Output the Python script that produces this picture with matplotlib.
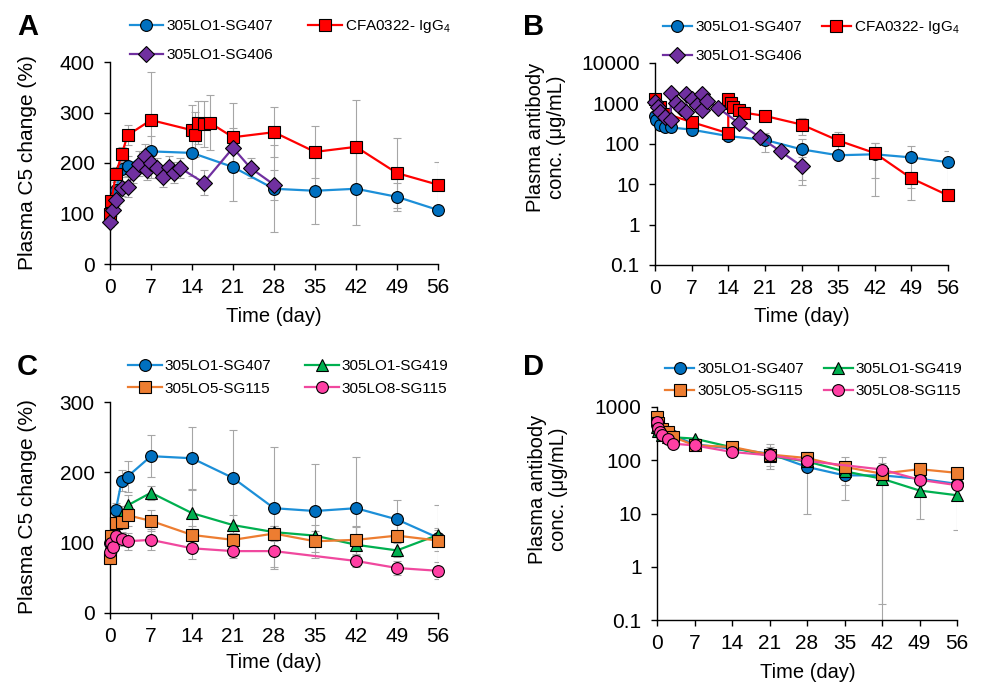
import numpy as np
import matplotlib.pyplot as plt
from matplotlib.ticker import FixedLocator, NullLocator

plt.rcParams['font.family'] = ['Liberation Sans', 'DejaVu Sans']
plt.rcParams['mathtext.fontset'] = 'custom'
plt.rcParams['mathtext.rm'] = 'Liberation Sans'
plt.rcParams['mathtext.it'] = 'Liberation Sans:italic'

# ---- Panel A: C5 change (%) ----
a_dias_407 = [0, 0.25, 1, 2, 3, 7, 14, 21, 28, 35, 42, 49, 56]
a_c5_407 = [100, 110, 147, 188, 194, 223, 220, 192, 149, 145, 149, 133, 107]
a_sd_407 = [0, 0, 10, 15, 20, 30, 45, 68, 86, 65, 72, 28, 0]

a_dias_cfa = [0, 0.25, 1, 2, 3, 7, 14, 14.5, 15, 16, 17, 21, 28, 35, 42, 49, 56]
a_c5_cfa = [100, 124, 178, 217, 255, 285, 265, 256, 280, 277, 280, 251, 261, 222, 232, 180, 157]
a_sd_cfa = [0, 10, 15, 15, 20, 96, 50, 45, 42, 45, 54, 68, 50, 52, 92, 70, 44]

a_dias_406 = [0, 0.5, 1, 2, 3, 4, 5, 6, 6.3, 7, 8, 9, 10, 11, 12, 16, 21, 24, 28]
a_c5_406 = [84, 106, 127, 150, 153, 180, 199, 213, 187, 200, 190, 173, 193, 181, 190, 161, 230, 190, 157]
a_sd_406 = [10, 10, 12, 15, 20, 20, 25, 25, 20, 30, 20, 20, 20, 20, 20, 25, 40, 20, 30]

# ---- Panel B: concentracion (ug/mL) ----
b_dias_407 = [0, 0.25, 1, 2, 3, 7, 14, 21, 28, 35, 42, 49, 56]
b_conc_407 = [476, 380, 300, 262, 254, 224, 155, 125, 73, 52, 55, 46, 35]
b_sd_407 = [0, 0, 0, 0, 0, 20, 25, 62, 60, 0, 50, 42, 30]

b_dias_cfa = [0, 1, 2, 7, 14, 14, 14.5, 15, 16, 17, 21, 28, 35, 42, 49, 56]
b_conc_cfa = [1300, 800, 560, 345, 182, 1280, 1000, 830, 690, 590, 490, 300, 121, 59, 14, 5.3]
b_sd_cfa = [0, 0, 0, 0, 0, 0, 0, 0, 0, 0, 0, 135, 72, 45, 6, 0]

b_dias_406 = [0, 0.5, 1, 2, 3, 3, 4, 5, 6, 6, 7, 8, 9, 9, 10, 12, 16, 20, 24, 28]
b_conc_406 = [1100, 800, 600, 470, 380, 1800, 1050, 780, 620, 1750, 1250, 900, 680, 1750, 1150, 780, 330, 145, 65, 28]
b_sd_406 = [0] * 19 + [18.5]

# ---- Panel C: C5 change (%) ----
c_dias = [0, 0.25, 1, 2, 3, 7, 14, 21, 28, 35, 42, 49, 56]
c_dias_lo8 = [0, 0.25, 0.5, 1, 2, 3, 7, 14, 21, 28, 42, 49, 56]
c_c5_407 = [100, 105, 147, 188, 194, 223, 220, 192, 149, 145, 149, 133, 107]
c_sd_407 = [0, 0, 10, 15, 22, 30, 45, 68, 87, 67, 73, 28, 47]
c_c5_419 = [82, 100, 118, 140, 153, 171, 142, 125, 115, 110, 97, 89, 111]
c_sd_419 = [5, 8, 10, 12, 15, 10, 35, 15, 8, 15, 25, 10, 10]
c_c5_lo5 = [78, 109, 128, 130, 139, 131, 111, 104, 113, 102, 104, 110, 103]
c_sd_lo5 = [5, 8, 10, 10, 15, 15, 12, 10, 10, 15, 20, 20, 15]
c_c5_lo8 = [87, 99, 94, 109, 105, 102, 104, 92, 88, 88, 74, 64, 60]
c_sd_lo8 = [5, 8, 8, 10, 10, 12, 15, 15, 10, 22, 8, 10, 12]

# ---- Panel D: concentracion (ug/mL) ----
d_conc_407 = [450, 370, 300, 280, 290, 200, 165, 133, 75, 52, 52, 45, 36]
d_sd_407 = [0, 0, 0, 0, 0, 0, 0, 65, 65, 34, 0, 0, 0]
d_conc_419 = [420, 350, 300, 270, 270, 255, 175, 120, 95, 62, 45, 27, 22]
d_sd_419 = [0, 0, 0, 0, 0, 0, 0, 0, 0, 0, 44.8, 19, 17]
d_conc_lo5 = [650, 500, 390, 340, 275, 190, 178, 128, 110, 75, 56, 68, 58]
d_sd_lo5 = [0, 0, 0, 0, 0, 0, 20, 50, 30, 40, 60, 0, 0]
d_conc_lo8 = [520, 410, 340, 300, 255, 205, 190, 143, 124, 97, 67, 43, 34]
d_sd_lo8 = [0] * 13

AZUL, AZUL_L = '#0070C0', '#1C8FD8'
ROJO = '#FF0000'
MORADO = '#7030A0'
VERDE = '#00B050'
NARANJA = '#ED7D31'
ROSA, ROSA_L = '#FF3FA4', '#F0489E'


def serie(ax, dias, vals, sd, color, mcolor, marker, ms, label):
    dias = np.array(dias, float)
    vals = np.array(vals, float)
    sd = np.array(sd, float)
    m = sd > 0
    if m.any():
        ax.errorbar(dias[m], vals[m], yerr=sd[m], fmt='none', ecolor='#a6a6a6',
                    elinewidth=0.8, capsize=3, capthick=0.8, zorder=1)
    h, = ax.plot(dias, vals, color=color, lw=1.6, marker=marker, ms=ms,
                 mfc=mcolor, mec='black', mew=0.8, label=label, zorder=3,
                 clip_on=False)
    return h


def ejes(ax):
    ax.set_xlim(0, 56)
    ax.set_xticks(range(0, 57, 7))
    for s in ['top', 'right']:
        ax.spines[s].set_visible(False)
    for s in ['left', 'bottom']:
        ax.spines[s].set_linewidth(1.0)
        ax.spines[s].set_color('black')
    ax.tick_params(direction='out', length=4, width=1.0, labelsize=15)
    ax.tick_params(axis='x', pad=6)
    ax.tick_params(axis='y', pad=7)


def log_eje(ax, top):
    ax.set_yscale('log')
    ticks = [0.1, 1, 10, 100, 1000, 10000]
    ticks = [t for t in ticks if t <= top]
    ax.set_ylim(0.1, top)
    ax.yaxis.set_major_locator(FixedLocator(ticks))
    ax.yaxis.set_minor_locator(NullLocator())
    ax.set_yticklabels([('%g' % t) for t in ticks])


W, H = 984, 682
fig = plt.figure(figsize=(W / 100, H / 100), dpi=100)


def caja(l, r, t, b):
    return [l / W, 1 - b / H, (r - l) / W, (b - t) / H]


axA = fig.add_axes(caja(110, 438, 62, 264))
axB = fig.add_axes(caja(655, 948, 63, 265))
axC = fig.add_axes(caja(110, 438, 402, 613))
axD = fig.add_axes(caja(657, 957, 407, 620))

leg_kw = dict(ncol=2, frameon=False, fontsize=11,
              handletextpad=0.2, borderpad=0,
              borderaxespad=0, loc='lower left')
lbl_cfa = 'CFA0322- IgG$_\\mathrm{4}$'

# A
h1 = serie(axA, a_dias_407, a_c5_407, a_sd_407, AZUL_L, AZUL, 'o', 8.5, '305LO1-SG407')
h2 = serie(axA, a_dias_cfa, a_c5_cfa, a_sd_cfa, ROJO, ROJO, 's', 8, lbl_cfa)
h3 = serie(axA, a_dias_406, a_c5_406, a_sd_406, MORADO, MORADO, 'D', 8.5, '305LO1-SG406')
ejes(axA)
axA.set_ylim(0, 400)
axA.set_yticks(range(0, 401, 100))
axA.legend([h1, h3, h2], [h1.get_label(), h3.get_label(), h2.get_label()],
           bbox_to_anchor=(0.06, 1.0), labelspacing=0.95, handlelength=2.2,
           columnspacing=2.3, **leg_kw)

# B
h1 = serie(axB, b_dias_407, b_conc_407, b_sd_407, AZUL_L, AZUL, 'o', 8.5, '305LO1-SG407')
h2 = serie(axB, b_dias_cfa, b_conc_cfa, b_sd_cfa, ROJO, ROJO, 's', 8, lbl_cfa)
h3 = serie(axB, b_dias_406, b_conc_406, b_sd_406, MORADO, MORADO, 'D', 8.5, '305LO1-SG406')
ejes(axB)
log_eje(axB, 10000)
axB.legend([h1, h3, h2], [h1.get_label(), h3.get_label(), h2.get_label()],
           bbox_to_anchor=(0.027, 1.0), labelspacing=0.95, handlelength=1.9,
           columnspacing=1.3, **leg_kw)

# C
h1 = serie(axC, c_dias, c_c5_407, c_sd_407, AZUL_L, AZUL, 'o', 8.5, '305LO1-SG407')
h2 = serie(axC, c_dias, c_c5_419, c_sd_419, VERDE, VERDE, '^', 9, '305LO1-SG419')
h3 = serie(axC, c_dias, c_c5_lo5, c_sd_lo5, NARANJA, NARANJA, 's', 8, '305LO5-SG115')
h4 = serie(axC, c_dias_lo8, c_c5_lo8, c_sd_lo8, ROSA_L, ROSA, 'o', 8.5, '305LO8-SG115')
ejes(axC)
axC.set_ylim(0, 300)
axC.set_yticks(range(0, 301, 100))
axC.legend([h1, h3, h2, h4], [h.get_label() for h in [h1, h3, h2, h4]],
           bbox_to_anchor=(0.055, 1.03), labelspacing=0.55, handlelength=2.2,
           columnspacing=2.2, **leg_kw)

# D
h1 = serie(axD, c_dias, d_conc_407, d_sd_407, AZUL_L, AZUL, 'o', 8.5, '305LO1-SG407')
h2 = serie(axD, c_dias, d_conc_419, d_sd_419, VERDE, VERDE, '^', 9, '305LO1-SG419')
h3 = serie(axD, c_dias, d_conc_lo5, d_sd_lo5, NARANJA, NARANJA, 's', 8, '305LO5-SG115')
h4 = serie(axD, c_dias_lo8, d_conc_lo8, d_sd_lo8, ROSA_L, ROSA, 'o', 8.5, '305LO8-SG115')
ejes(axD)
log_eje(axD, 1000)
axD.legend([h1, h3, h2, h4], [h.get_label() for h in [h1, h3, h2, h4]],
           bbox_to_anchor=(0.027, 1.04), labelspacing=0.55, handlelength=1.9,
           columnspacing=1.3, **leg_kw)

# textos
def ftxt(x, y, s, **kw):
    fig.text(x / W, 1 - y / H, s, **kw)

for x, y, s in [(17, 27, 'A'), (523, 27, 'B'), (17, 367, 'C'), (523, 367, 'D')]:
    ftxt(x, y, s, fontsize=21, fontweight='bold', ha='left', va='center')

for x, y in [(274, 317), (802, 317), (274, 663), (808, 672)]:
    ftxt(x, y, 'Time (day)', fontsize=14.5, ha='center', va='center')

ftxt(28, 163, 'Plasma C5 change (%)', fontsize=15, rotation=90, ha='center', va='center')
ftxt(28, 507, 'Plasma C5 change (%)', fontsize=15, rotation=90, ha='center', va='center')
ftxt(546, 137, 'Plasma antibody\nconc. (\u03bcg/mL)', fontsize=14.5, rotation=90,
     ha='center', va='center', linespacing=1.1)
ftxt(548, 489, 'Plasma antibody\nconc. (\u03bcg/mL)', fontsize=14.5, rotation=90,
     ha='center', va='center', linespacing=1.1)

fig.savefig('out.png', dpi=100)
